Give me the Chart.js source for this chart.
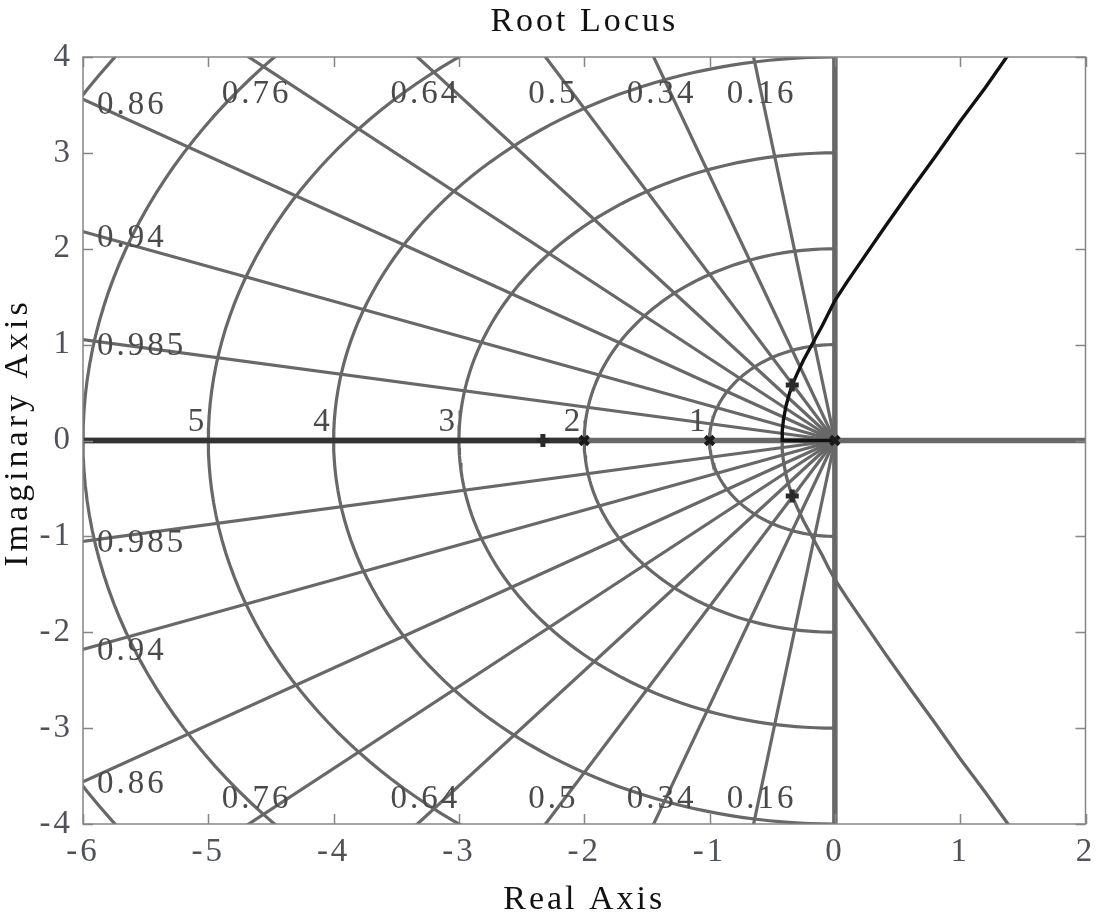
<!DOCTYPE html>
<html><head><meta charset="utf-8">
<script src="https://cdn.jsdelivr.net/npm/chart.js@4.4.1/dist/chart.umd.min.js"></script>
<style>html,body{margin:0;padding:0;background:#fff;} #wrap{width:1097px;height:915px;}</style>
</head><body><div id="wrap"><canvas id="c" width="1097" height="915"></canvas></div>
<script>
const chartTitle = 'Root Locus';
const xAxisTitle = 'Real Axis';
const yAxisTitle = 'Imaginary Axis';
const xTicks = [-6,-5,-4,-3,-2,-1,0,1,2];
const yTicks = [-4,-3,-2,-1,0,1,2,3,4];
const zetaValues = [0.16,0.34,0.5,0.64,0.76,0.86,0.94,0.985];
const zetaLabels = ['0.16','0.34','0.5','0.64','0.76','0.86','0.94','0.985'];
const wnValues = [1,2,3,4,5,6,7];
const wnLabels = ['1','2','3','4','5'];
const polesRe = [0,-1,-2];
const polesIm = [0,0,0];
const clPolesRe = [-0.34,-0.34,-2.33];
const clPolesIm = [0.58,-0.58,0];
// branch from pole at 0 (upper, black)
const upperRe = [0,-0.42,-0.42,-0.41,-0.39,-0.365,-0.34,-0.30,-0.25,-0.20,-0.15,-0.10,-0.05,0,0.10,0.20,0.40,0.60,0.80,1.00,1.20,1.36,1.60];
const upperIm = [0,0,0.10,0.22,0.36,0.48,0.58,0.70,0.84,0.96,1.08,1.20,1.33,1.46,1.66,1.85,2.23,2.60,2.96,3.33,3.68,3.98,4.40];
// branch from pole at -1 (lower, grey)
const lowerRe = [-1,-0.42,-0.42,-0.41,-0.39,-0.365,-0.34,-0.30,-0.25,-0.20,-0.15,-0.10,-0.05,0,0.10,0.20,0.40,0.60,0.80,1.00,1.20,1.37,1.60];
const lowerIm = [0,0,-0.10,-0.22,-0.36,-0.48,-0.58,-0.70,-0.84,-0.96,-1.08,-1.20,-1.33,-1.45,-1.65,-1.84,-2.22,-2.59,-2.95,-3.32,-3.67,-3.98,-4.40];
// branch from pole at -2 (to -infinity)
const leftRe = [-2,-6];
const leftIm = [0,0];

const FONT = "'Liberation Serif','Times New Roman',serif";
const GRID = '#686868';
const xy = (re, im) => re.map((v,i)=>({x:v,y:im[i]}));

const datasets = [];
// sgrid: natural frequency arcs
wnValues.forEach(w => {
  const pts = [];
  for (let a = 90; a <= 270; a += 1.5) {
    const t = a*Math.PI/180;
    pts.push({x: w*Math.cos(t), y: w*Math.sin(t)});
  }
  datasets.push({data: pts, showLine:true, borderColor:GRID, borderWidth:3.2, pointRadius:0, clip:0, order:20, tension:0});
});
// sgrid: damping rays
zetaValues.forEach(z => {
  const s = Math.sqrt(1-z*z), R = 12;
  datasets.push({data:[{x:0,y:0},{x:-z*R,y:s*R}], showLine:true, borderColor:GRID, borderWidth:3.2, pointRadius:0, clip:0, order:20});
  datasets.push({data:[{x:0,y:0},{x:-z*R,y:-s*R}], showLine:true, borderColor:GRID, borderWidth:3.2, pointRadius:0, clip:0, order:20});
});
// axes (zeta=0 and zeta=1 lines)
datasets.push({data:[{x:xTicks[0],y:0},{x:xTicks[xTicks.length-1],y:0}], showLine:true, borderColor:GRID, borderWidth:5.5, pointRadius:0, clip:0, order:15});
datasets.push({data:[{x:0,y:yTicks[0]},{x:0,y:yTicks[yTicks.length-1]}], showLine:true, borderColor:GRID, borderWidth:5.5, pointRadius:0, clip:0, order:15});
// locus branches
datasets.push({data: xy(lowerRe, lowerIm), showLine:true, borderColor:'#666666', borderWidth:3.3, pointRadius:0, clip:0, order:6, tension:0});
datasets.push({data: xy(leftRe, leftIm), showLine:true, borderColor:'#333333', borderWidth:5.5, pointRadius:0, clip:0, order:5});
datasets.push({data: xy(upperRe, upperIm), showLine:true, borderColor:'#111111', borderWidth:3.4, pointRadius:0, clip:0, order:4, tension:0});
// markers
datasets.push({data: xy(polesRe, polesIm), showLine:false, pointStyle:'crossRot', pointRadius:6, borderColor:'#1a1a1a', borderWidth:4, backgroundColor:'#1a1a1a', clip:false, order:1});
datasets.push({data: xy(clPolesRe, clPolesIm), showLine:false, pointStyle:'cross', pointRadius:6.5, borderColor:'#2a2a2a', borderWidth:5, backgroundColor:'#2a2a2a', clip:false, order:0});

function setSpacing(ctx, s){ if ('letterSpacing' in ctx) ctx.letterSpacing = s; }

const decor = {
  id:'decor',
  beforeLayout(chart){ setSpacing(chart.ctx,'3px'); },
  beforeDraw(chart){ setSpacing(chart.ctx,'3px'); },
  afterDatasetsDraw(chart){
    const ctx = chart.ctx, a = chart.chartArea, X = chart.scales.x, Y = chart.scales.y;
    ctx.save();
    setSpacing(ctx,'3px');
    // frame
    ctx.strokeStyle = '#858585'; ctx.lineWidth = 1.5;
    ctx.strokeRect(a.left, a.top, a.right-a.left, a.bottom-a.top);
    // inward ticks
    ctx.beginPath();
    xTicks.forEach(v => { const p = Math.round(X.getPixelForValue(v))+0.5;
      ctx.moveTo(p,a.bottom); ctx.lineTo(p,a.bottom-10); ctx.moveTo(p,a.top); ctx.lineTo(p,a.top+10); });
    yTicks.forEach(v => { const p = Math.round(Y.getPixelForValue(v))+0.5;
      ctx.moveTo(a.left,p); ctx.lineTo(a.left+10,p); ctx.moveTo(a.right,p); ctx.lineTo(a.right-10,p); });
    ctx.stroke();
    // zeta labels
    ctx.fillStyle = '#4a4a4a';
    ctx.font = '33px ' + FONT;
    const xmin = X.min, ymax = Y.max;
    zetaValues.forEach((z,i) => {
      const s = Math.sqrt(1-z*z);
      const xTop = -z*ymax/s;          // where the ray meets the top/bottom edge
      if (xTop >= xmin) {
        const cx = X.getPixelForValue(xTop) + 8;
        ctx.textAlign = 'center'; ctx.textBaseline = 'alphabetic';
        ctx.fillText(zetaLabels[i], cx, a.top + 46);
        ctx.fillText(zetaLabels[i], cx, a.bottom - 16);
      } else {
        const yLeft = -xmin*s/z;         // where the ray meets the left edge
        ctx.textAlign = 'left'; ctx.textBaseline = 'alphabetic';
        ctx.fillText(zetaLabels[i], a.left + 14, Y.getPixelForValue(yLeft) + 15);
        ctx.fillText(zetaLabels[i], a.left + 14, Y.getPixelForValue(-yLeft) + 11);
      }
    });
    // natural frequency labels
    ctx.textAlign = 'right'; ctx.textBaseline = 'alphabetic';
    wnLabels.forEach(l => {
      const w = parseFloat(l);
      ctx.fillText(l, X.getPixelForValue(-w) - 1, Y.getPixelForValue(0) - 10);
    });
    ctx.restore();
  },
  afterDraw(chart){
    const ctx = chart.ctx, a = chart.chartArea;
    ctx.save();
    ctx.fillStyle = '#111';
    ctx.font = '34px ' + FONT;
    setSpacing(ctx,'3px');
    ctx.textAlign = 'center'; ctx.textBaseline = 'alphabetic';
    const cx = (a.left + a.right)/2;
    ctx.fillText(chartTitle, cx, 31);
    ctx.fillText(xAxisTitle, cx, 909);
    setSpacing(ctx,'4px');
    ctx.translate(27, (a.top + a.bottom)/2 - 8);
    ctx.rotate(-Math.PI/2);
    ctx.fillText(yAxisTitle, 0, 0);
    ctx.restore();
  }
};

Chart.defaults.font.family = FONT;
const chart = new Chart(document.getElementById('c'), {
  type:'scatter',
  data:{datasets},
  plugins:[decor],
  options:{
    responsive:false, animation:false, events:[],
    layout:{padding:{top:57,right:9,left:0,bottom:0}},
    plugins:{legend:{display:false}, tooltip:{enabled:false}, title:{display:false}},
    scales:{
      x:{type:'linear', min:xTicks[0], max:xTicks[xTicks.length-1],
         afterBuildTicks: s => { s.ticks = xTicks.map(v=>({value:v})); },
         grid:{display:false, drawTicks:false}, border:{display:false},
         ticks:{padding:9, color:'#4f5359', font:{size:33, family:FONT}, maxRotation:0, autoSkip:false},
         afterFit: s => { s.height = 91; s.paddingLeft = 0; s.paddingRight = 0; }},
      y:{type:'linear', min:yTicks[0], max:yTicks[yTicks.length-1],
         afterBuildTicks: s => { s.ticks = yTicks.map(v=>({value:v})); },
         grid:{display:false, drawTicks:false}, border:{display:false},
         ticks:{padding:10, color:'#4f5359', font:{size:33, family:FONT}, autoSkip:false},
         afterFit: s => { s.width = 83; s.paddingTop = 0; s.paddingBottom = 0; }}
    }
  }
});
</script></body></html>
